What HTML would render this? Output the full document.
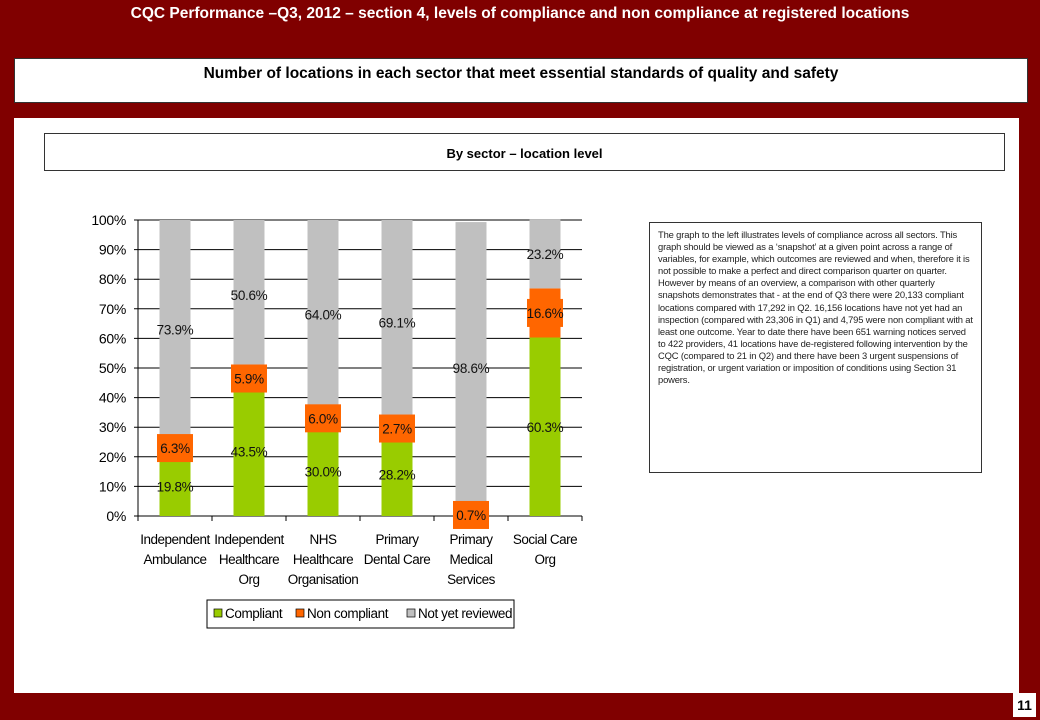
<!DOCTYPE html>
<html><head><meta charset="utf-8"><style>
body{margin:0;width:1040px;height:720px;background:#800000;position:relative;overflow:hidden;font-family:"Liberation Sans",Arial,sans-serif}
.abs{position:absolute}
</style></head><body>
<div class="abs" style="left:0;top:5px;width:1040px;text-align:center;color:#fff;font-weight:bold;font-size:15.5px">CQC Performance –Q3, 2012 – section 4, levels of compliance and non compliance at registered locations</div>
<div class="abs" style="left:14px;top:58px;width:1014px;height:45px;background:#fff;border:1px solid #333;box-sizing:border-box;text-align:center;font-weight:bold;font-size:15.5px;padding-top:6px">Number of locations in each sector that meet essential standards of quality and safety</div>
<div class="abs" style="left:14px;top:118px;width:1005px;height:575px;background:#fff"></div>
<div class="abs" style="left:44px;top:133px;width:961px;height:38px;background:#fff;border:1px solid #333;box-sizing:border-box;text-align:center;font-weight:bold;font-size:13px;padding-top:12px">By sector – location level</div>
<div class="abs" style="left:649px;top:222px;width:333px;height:251px;border:1px solid #333;box-sizing:border-box;padding:6px 8px;font-size:9.4px;line-height:12.1px;color:#222;letter-spacing:-0.15px">The graph to the left illustrates levels of compliance across all sectors. This graph should be viewed as a ‘snapshot’ at a given point across a range of variables, for example, which outcomes are reviewed and when, therefore it is not possible to make a perfect and direct comparison quarter on quarter. However by means of an overview, a comparison with other quarterly snapshots demonstrates that - at the end of Q3 there were 20,133 compliant locations compared with 17,292 in Q2. 16,156 locations have not yet had an inspection (compared with 23,306 in Q1) and 4,795 were non compliant with at least one outcome. Year to date there have been 651 warning notices served to 422 providers, 41 locations have de-registered following intervention by the CQC (compared to 21 in Q2) and there have been 3 urgent suspensions of registration, or urgent variation or imposition of conditions using Section 31 powers.</div>
<div class="abs" style="left:1013px;top:693px;width:23px;height:24px;background:#fff;text-align:center;font-weight:bold;font-size:14px;line-height:24px">11</div>
<svg class="abs" style="left:0;top:0" width="1040" height="720" id="chart"></svg>
<script>
const categories=[["Independent","Ambulance"],["Independent","Healthcare","Org"],["NHS","Healthcare","Organisation"],["Primary","Dental Care"],["Primary","Medical","Services"],["Social Care","Org"]];
const compliant=[19.8,43.5,30.0,28.2,0,60.3];
const nonCompliant=[6.3,5.9,6.0,2.7,0.7,16.6];
const notReviewed=[73.9,50.6,64.0,69.1,98.6,23.2];
const tickLabels=["0%","10%","20%","30%","40%","50%","60%","70%","80%","90%","100%"];
const NS="http://www.w3.org/2000/svg";
const svg=document.getElementById('chart');
const X0=138,X1=582,Y0=516,Y1=220;
const bw=(X1-X0)/categories.length;
const y=v=>Y0-(v/100)*(Y0-Y1);
const xc=i=>X0+bw*(i+0.5);
function mk(t,a){const e=document.createElementNS(NS,t);for(const k in a)e.setAttribute(k,a[k]);svg.appendChild(e);return e;}
tickLabels.forEach((t,i)=>{const v=i*10;
 const g=mk('line',{x1:X0-4,x2:X1,y1:y(v),y2:y(v),stroke:'#000','stroke-width':1});
 
 
 const tx=mk('text',{x:X0-12,y:y(v)+5,'text-anchor':'end','font-size':14,fill:'#000','letter-spacing':-0.3});tx.textContent=t;
 
 
});
mk('line',{x1:X0,x2:X0,y1:Y1,y2:Y0+5,stroke:'#000'});
for(let i=0;i<=categories.length;i++){mk('line',{x1:X0+bw*i,x2:X0+bw*i,y1:Y0,y2:Y0+5,stroke:'#000'});}
const BW=31;
categories.forEach((c,i)=>{
 const cx=xc(i);
 const segs=[[0,compliant[i],'#99cc00','compliant'],[compliant[i],nonCompliant[i],'#ff6600','non-compliant'],[compliant[i]+nonCompliant[i],notReviewed[i],'#c0c0c0','not-reviewed']];
 segs.forEach(([b,v,col,n])=>{
  if(v<=0)return;
  const r=mk('rect',{x:cx-BW/2,y:y(b+v),width:BW,height:y(b)-y(b+v),fill:col});
  
  
 });
 segs.forEach(([b,v,col,n])=>{
  if(v<=0)return;
  const my=y(b+v/2);
  if(n==='non-compliant'){const lb=mk('rect',{x:cx-18,y:my-14,width:36,height:28,fill:'#ff6600'});
   
   }
  const t=mk('text',{x:cx,y:my+5,'text-anchor':'middle','font-size':13.5,fill:'#111','letter-spacing':-0.3});
  t.textContent=v.toFixed(1)+'%';
  
  
 });
 c.forEach((ln,j)=>{const t=mk('text',{x:cx,y:544+j*20,'text-anchor':'middle','font-size':13.5,fill:'#000','letter-spacing':-0.5});t.textContent=ln;
  
  });
});
const lg=mk('rect',{x:207,y:600,width:307,height:28,fill:'#fff',stroke:'#000'});


[["Compliant",'#99cc00',214],["Non compliant",'#ff6600',296],["Not yet reviewed",'#c0c0c0',407]].forEach(([n,c,x])=>{
 const s=mk('rect',{x:x,y:609,width:8,height:8,fill:c,stroke:'#000','stroke-width':0.7});
 
 
 const t=mk('text',{x:x+11,y:618,'font-size':13.5,fill:'#000','letter-spacing':-0.4});t.textContent=n;
 
 
});
</script>
</body></html>
